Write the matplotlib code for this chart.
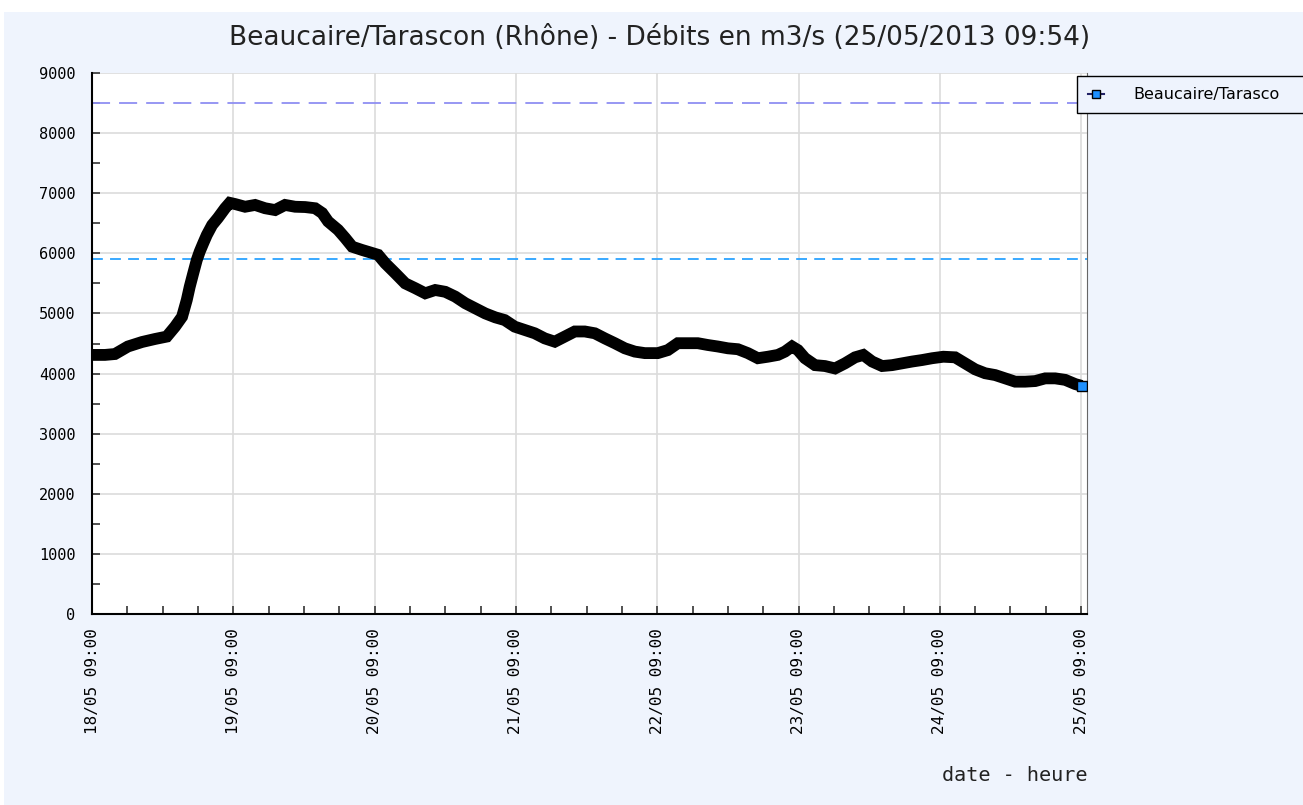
import pandas as pd
import matplotlib
matplotlib.use('Agg')
import matplotlib.pyplot as plt
import matplotlib.dates as mdates
from matplotlib.lines import Line2D
from matplotlib.patches import Rectangle

# Débits relevés (heures depuis le 18/05 09:00, m3/s)
hours = [0, 2.2, 3.9, 6.1, 8.5, 10.7, 12.7, 14.1, 15.3, 16.1, 16.6, 17.2, 17.8,
         18.3, 18.9, 19.5, 20.4, 21.4, 22.6, 23.4, 24.3, 26.0, 27.7, 29.4, 31.1,
         32.8, 34.5, 36.2, 37.9, 39.1, 40.1, 41.8, 43.0, 44.2, 45.9, 47.6, 48.6,
         49.8, 51.5, 53.2, 54.9, 56.6, 58.3, 60.0, 61.7, 63.4, 65.1, 66.8, 68.5,
         70.1, 71.8, 73.5, 75.2, 76.9, 78.6, 80.3, 82.0, 83.7, 85.4, 87.1, 88.8,
         90.5, 92.2, 93.9, 96.1, 97.8, 99.5, 101.2, 102.9, 104.6, 106.3, 108.0,
         109.7, 111.4, 113.1, 114.8, 116.5, 117.7, 118.9, 119.9, 121.1, 122.8,
         124.5, 126.2, 127.9, 129.6, 131.0, 132.5, 134.2, 135.9, 137.6, 139.3,
         141.0, 142.7, 144.6, 146.6, 148.3, 150.0, 151.7, 153.4, 155.1, 156.8,
         158.5, 160.2, 161.9, 163.6, 165.3, 167.0, 168.1]
debits = [4310, 4310, 4325, 4450, 4525, 4575, 4615, 4780, 4945, 5225, 5445, 5670, 5890,
          6030, 6170, 6305, 6470, 6590, 6750, 6840, 6820, 6775, 6805, 6750, 6720,
          6805, 6775, 6770, 6750, 6670, 6530, 6390, 6255, 6110, 6055, 6005, 5975,
          5835, 5670, 5500, 5420, 5335, 5390, 5360, 5280, 5170, 5085, 5000, 4935,
          4890, 4780, 4725, 4670, 4585, 4530, 4615, 4700, 4700, 4670, 4585, 4505,
          4420, 4365, 4340, 4340, 4390, 4505, 4505, 4505, 4475, 4450, 4420,
          4405, 4340, 4255, 4280, 4310, 4365, 4450, 4390, 4255, 4140,
          4125, 4085, 4170, 4270, 4310, 4200, 4125, 4140, 4170, 4200,
          4225, 4255, 4280, 4270, 4170, 4070, 4005, 3975, 3920, 3865,
          3865, 3875, 3920, 3920, 3895, 3825, 3795]

seuils = [8500, 5900]
seuil_colors = ['#8f8ff2', '#2aa2ff']

start = pd.Timestamp('2013-05-18 09:00')
times = start + pd.to_timedelta(hours, unit='h')

fig = plt.figure(figsize=(13.03, 8.05), dpi=100, facecolor='white')
# fond bleu clair
fig.patches.append(Rectangle((4 / 1303, 0), 1, 1 - 12 / 805, transform=fig.transFigure,
                             facecolor='#eff4fd', edgecolor='none', zorder=-10))

ax = fig.add_axes([92 / 1303, 1 - 614 / 805, (1087 - 92) / 1303, (614 - 73) / 805])
ax.set_facecolor('white')

# seuils
ax.axhline(seuils[0], color=seuil_colors[0], lw=1.3, dashes=(10, 5), zorder=2)
ax.axhline(seuils[1], color=seuil_colors[1], lw=1.3, dashes=(6, 4), zorder=2)

# courbe
ax.plot(times, debits, color='black', lw=8.5, solid_capstyle='butt',
        solid_joinstyle='miter', zorder=3)
ax.plot(times[-1:], debits[-1:], ls='none', marker='s', ms=6.5, mfc='#1e90ff',
        mec='black', mew=1.0, zorder=4)

ax.set_ylim(0, 9000)
ax.set_xlim(start, start + pd.Timedelta(hours=169))
ax.set_yticks(range(0, 9001, 1000))
ax.set_yticks(range(500, 9000, 1000), minor=True)
ax.xaxis.set_major_locator(mdates.HourLocator(byhour=[9]))
ax.xaxis.set_minor_locator(mdates.HourLocator(byhour=[3, 15, 21]))
ax.xaxis.set_major_formatter(mdates.DateFormatter('%d/%m %H:%M'))

ax.grid(True, which='major', color='#dcdcdc', lw=1.2, zorder=1)
ax.tick_params(which='both', direction='in', length=6, width=1.2, color='#333333')
ax.tick_params(axis='y', labelsize=11, pad=12)
ax.tick_params(axis='x', labelsize=11.5, pad=10, labelrotation=90)
for lab in ax.get_xticklabels() + ax.get_yticklabels():
    lab.set_family('DejaVu Sans Mono')

ax.spines['top'].set_visible(False)
ax.spines['right'].set_color('#666666')
ax.spines['left'].set_linewidth(1.5)
ax.spines['bottom'].set_linewidth(1.5)

fig.text(660 / 1303, 1 - 38 / 805, 'Beaucaire/Tarascon (Rhône) - Débits en m3/s (25/05/2013 09:54)',
         ha='center', va='center', fontsize=19, color='#222222')
fig.text(1088 / 1303, 1 - 775 / 805, 'date - heure', ha='right', va='center',
         fontsize=14.5, family='DejaVu Sans Mono', color='#222222')

# légende
handle = Line2D([], [], color='#222266', lw=1.5, marker='s', ms=6, mfc='#1e90ff', mec='black')
fig.legend([handle], ['Beaucaire/Tarasco'], loc='upper left',
           bbox_to_anchor=(1077 / 1303, 1 - 76 / 805, 240 / 1303, 0), mode='expand',
           fancybox=False, edgecolor='black', facecolor='#eef3fd', framealpha=1,
           fontsize=11.5, handlelength=1.0, handletextpad=1.8, borderaxespad=0,
           borderpad=0.7)

fig.savefig('out.png', dpi=100, facecolor=fig.get_facecolor())
